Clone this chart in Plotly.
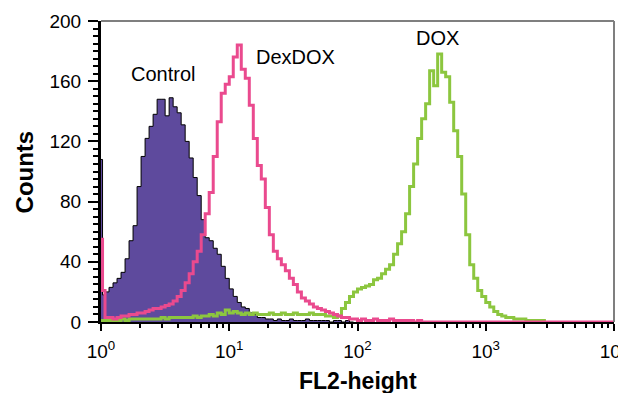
import numpy as np
import plotly.graph_objects as go

# ---- data: histogram counts per channel (1/32 decade per channel, from 10^0) ----
BINS_PER_DECADE = 32

control_first = 108
control_counts = [
    18, 20, 23, 26, 29, 33, 42, 54, 64, 90,
    110, 122, 130, 138, 148, 148, 137, 149, 143, 139,
    131, 120, 109, 96, 84, 68, 56, 54, 49, 45,
    37, 29, 22, 17, 13, 10, 9, 6, 5, 3,
    3, 2, 2, 1, 2, 1, 1, 2, 1, 1,
    1, 2, 1, 1, 1, 1, 1, 0, 1, 1,
    0, 1, 0,
]

dexdox_first = 55
dexdox_counts = [
    21, 3, 3, 2, 3, 4, 4, 5, 5, 6,
    6, 7, 8, 9, 9, 10, 11, 12, 14, 17,
    21, 26, 32, 40, 47, 58, 72, 86, 110, 133,
    152, 158, 163, 176, 184, 168, 162, 144, 122, 104,
    95, 76, 58, 47, 42, 38, 34, 29, 25, 20,
    16, 14, 12, 10, 9, 8, 7, 6, 5, 4,
    3, 3, 2, 2, 1, 2, 1, 1, 2, 1,
    1, 1, 2, 1, 1, 1, 1, 1, 0, 1,
] + [0] * 48

dox_first = 1
dox_counts = [
    1, 1, 1, 1, 1, 2, 1, 2, 2, 2,
    2, 2, 2, 2, 2, 3, 2, 3, 3, 3,
    3, 3, 3, 4, 3, 4, 4, 5, 4, 6,
    5, 8, 6, 7, 6, 5, 6, 5, 6, 5,
    5, 5, 6, 5, 5, 6, 5, 5, 6, 5,
    5, 5, 6, 5, 5, 5, 4, 4, 3, 4,
    9, 13, 17, 20, 22, 23, 24, 25, 28, 29,
    32, 35, 38, 45, 52, 60, 72, 90, 105, 122,
    135, 145, 167, 157, 178, 166, 163, 146, 127, 110,
    85, 58, 38, 29, 21, 17, 13, 10, 7, 5,
    4, 3, 3, 2, 2, 2, 1, 1, 1, 1,
    1,
]

x_tick_vals = [1, 10, 100, 1000, 10000]
x_tick_text = ["10<sup>0</sup>", "10<sup>1</sup>", "10<sup>2</sup>", "10<sup>3</sup>", "10<sup>4</sup>"]
y_tick_vals = [0, 40, 80, 120, 160, 200]

labels = ["Control", "DexDOX", "DOX"]
label_pos_log = [0.484, 1.516, 2.625]
label_pos_y = [165, 176, 189]

FONT = "Arial, Liberation Sans, sans-serif"


def step_xy(first, counts):
    """Build step-line coordinates: first-channel spike then channel bins."""
    n = len(counts)
    edges = 10 ** (np.arange(n + 1) / BINS_PER_DECADE)
    edges[0] = 10 ** 0.012
    xs = [1.0] + list(edges[:n]) + [edges[n]]
    ys = [first] + list(counts) + [counts[-1]]
    return xs, ys


fig = go.Figure()

cx, cy = step_xy(control_first, control_counts)
fig.add_trace(go.Scatter(
    x=cx, y=cy, mode="lines", line=dict(shape="hv", color="black", width=1),
    fill="tozeroy", fillcolor="#5E4A9D", name="Control", showlegend=False,
))

gx, gy = step_xy(dox_first, dox_counts)
fig.add_trace(go.Scatter(
    x=gx, y=gy, mode="lines", line=dict(shape="hv", color="#8CC63F", width=3),
    name="DOX", showlegend=False,
))

px_, py_ = step_xy(dexdox_first, dexdox_counts)
fig.add_trace(go.Scatter(
    x=px_, y=py_, mode="lines", line=dict(shape="hv", color="#EA4A8E", width=3),
    name="DexDOX", showlegend=False,
))

minor_x = [m * 10 ** d for d in range(4) for m in range(2, 10)]

fig.update_xaxes(
    type="log", range=[0, 4],
    tickvals=x_tick_vals, ticktext=x_tick_text,
    ticks="outside", ticklen=7, tickwidth=2, tickcolor="black",
    minor=dict(tickvals=minor_x, ticks="outside", ticklen=4, tickwidth=2, tickcolor="black"),
    showline=True, linecolor="black", linewidth=2,
    showgrid=False, zeroline=False,
    tickfont=dict(family=FONT, size=19, color="black"),
    ticklabelstandoff=4,
    ticklabeloverflow="allow",
    layer="above traces",
)
fig.update_yaxes(
    range=[0, 200],
    tickvals=y_tick_vals,
    ticks="outside", ticklen=10, tickwidth=2, tickcolor="black",
    minor=dict(dtick=5, ticks="outside", ticklen=5, tickwidth=2, tickcolor="black"),
    showline=True, linecolor="black", linewidth=3,
    showgrid=False, zeroline=False,
    tickfont=dict(family=FONT, size=19, color="black"),
    ticklabelstandoff=3,
    layer="below traces",
)

# grey top/right frame
fig.add_shape(type="line", xref="paper", yref="paper", x0=0, x1=1, y0=1, y1=1,
              line=dict(color="#7F7F7F", width=2))
fig.add_shape(type="line", xref="paper", yref="paper", x0=1, x1=1, y0=0, y1=1,
              line=dict(color="#7F7F7F", width=2))

for t, lx, ly in zip(labels, label_pos_log, label_pos_y):
    fig.add_annotation(x=lx, y=ly, xref="x", yref="y", text=t, showarrow=False,
                       font=dict(family=FONT, size=20, color="black"))

fig.add_annotation(x=-0.150, y=0.497, xref="paper", yref="paper", text="<b>Counts</b>",
                   textangle=-90, showarrow=False, xanchor="center", yanchor="middle",
                   font=dict(family=FONT, size=24, color="black"))
fig.add_annotation(x=0.5, y=-0.196, xref="paper", yref="paper", text="<b>FL2-height</b>",
                   showarrow=False, xanchor="center", yanchor="middle",
                   font=dict(family=FONT, size=23, color="black"))

# the page body adds an 8px offset, so margins are shifted to compensate
fig.update_layout(
    width=626, height=393,
    margin=dict(l=93, r=20, t=13, b=79, autoexpand=False),
    paper_bgcolor="white", plot_bgcolor="white",
    showlegend=False,
)

fig.write_html("out.html")
